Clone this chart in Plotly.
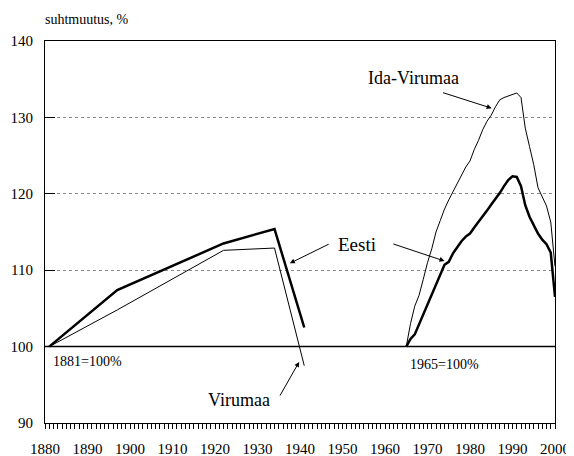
import plotly.graph_objects as go

# census years 1881-1941, 1881 = 100
years_old = [1881, 1897, 1922, 1934, 1941]
eesti_old = [100, 107.4, 113.5, 115.4, 102.5]
virumaa_old = [100, 104.8, 112.6, 112.9, 97.5]

# annual 1965-2000, 1965 = 100
years_new = list(range(1965, 2001))
eesti_new = [100, 101.0, 101.6, 102.9, 104.2, 105.6, 106.9, 108.3, 109.6, 110.7,
             111.1, 112.2, 113.0, 113.8, 114.4, 114.8, 115.6, 116.3, 117.0, 117.8,
             118.6, 119.3, 120.1, 121.0, 121.8, 122.3, 122.2, 121.0, 118.5, 117.0,
             115.9, 114.8, 114.0, 113.4, 112.3, 106.5]
ida_virumaa = [100, 103.0, 105.3, 106.7, 108.8, 111.0, 112.8, 115.0, 116.5, 118.0,
               119.2, 120.3, 121.3, 122.4, 123.5, 124.3, 125.8, 127.0, 128.4, 129.5,
               130.3, 131.4, 132.3, 132.6, 132.8, 133.0, 133.2, 132.6, 128.6, 126.2,
               123.8, 120.8, 119.5, 118.4, 116.3, 110.5]

BASE = 100
x_ticks = list(range(1880, 2001, 10))
y_ticks = list(range(90, 141, 10))

FONT = "Liberation Serif"

fig = go.Figure()
fig.add_trace(go.Scatter(x=years_old, y=virumaa_old, mode="lines",
                         line=dict(color="black", width=1)))
fig.add_trace(go.Scatter(x=years_old, y=eesti_old, mode="lines",
                         line=dict(color="black", width=2.5)))
fig.add_trace(go.Scatter(x=years_new, y=ida_virumaa, mode="lines",
                         line=dict(color="black", width=1)))
fig.add_trace(go.Scatter(x=years_new, y=eesti_new, mode="lines",
                         line=dict(color="black", width=2.5)))

# base line at 100 %
fig.add_shape(type="line", xref="paper", x0=0, x1=1, y0=BASE, y1=BASE,
              line=dict(color="black", width=1.5), layer="above")

labels = [
    ("Ida-Virumaa", 1966.6, 135.1, 18),
    ("Eesti", 1953.4, 113.3, 19),
    ("Virumaa", 1925.6, 93.0, 18),
    ("1881=100%", 1890.0, 98.0, 14),
    ("1965=100%", 1973.9, 97.7, 14),
]
for txt, x, y, size in labels:
    fig.add_annotation(x=x, y=y, text=txt, showarrow=False,
                       font=dict(family=FONT, size=size, color="black"))

# (tail x, tail y, head x, head y)
arrows = [
    (1973.3, 133.3, 1985.1, 131.2),
    (1947.1, 113.5, 1937.6, 110.9),
    (1961.6, 113.5, 1974.0, 111.2),
    (1935.1, 93.4, 1939.8, 98.0),
]
for ax, ay, hx, hy in arrows:
    fig.add_annotation(x=hx, y=hy, ax=ax, ay=ay, axref="x", ayref="y",
                       text="", showarrow=True, arrowhead=2, arrowsize=1,
                       arrowwidth=1, arrowcolor="black")

fig.add_annotation(xref="paper", yref="paper", x=-0.004, y=1.055,
                   xanchor="left", yanchor="middle", text="suhtmuutus, %",
                   showarrow=False, font=dict(family=FONT, size=14, color="black"))

# page body adds an 8 px offset, so the figure is 8 px smaller each way
fig.update_layout(
    width=566, height=448,
    margin=dict(l=37, r=19, t=33, b=33),
    paper_bgcolor="white", plot_bgcolor="white",
    showlegend=False,
    font=dict(family=FONT, size=15, color="black"),
    xaxis=dict(range=[1880, 2000], tickvals=x_ticks, showgrid=False, zeroline=False,
               automargin=False, ticklabelstandoff=7,
               showline=True, mirror=True, linecolor="black", linewidth=1,
               ticks="outside", ticklen=5, tickcolor="black",
               minor=dict(dtick=1, tick0=1880, ticks="outside", ticklen=5,
                          tickcolor="black", showgrid=False)),
    yaxis=dict(range=[90, 140], tickvals=y_ticks, zeroline=False,
               automargin=False, ticklabelstandoff=8,
               showline=True, mirror=True, linecolor="black", linewidth=1,
               ticks="inside", ticklen=10, tickcolor="black",
               showgrid=True, gridcolor="#8a8a8a", gridwidth=1, griddash="dot"),
)

fig.write_html("out.html")
